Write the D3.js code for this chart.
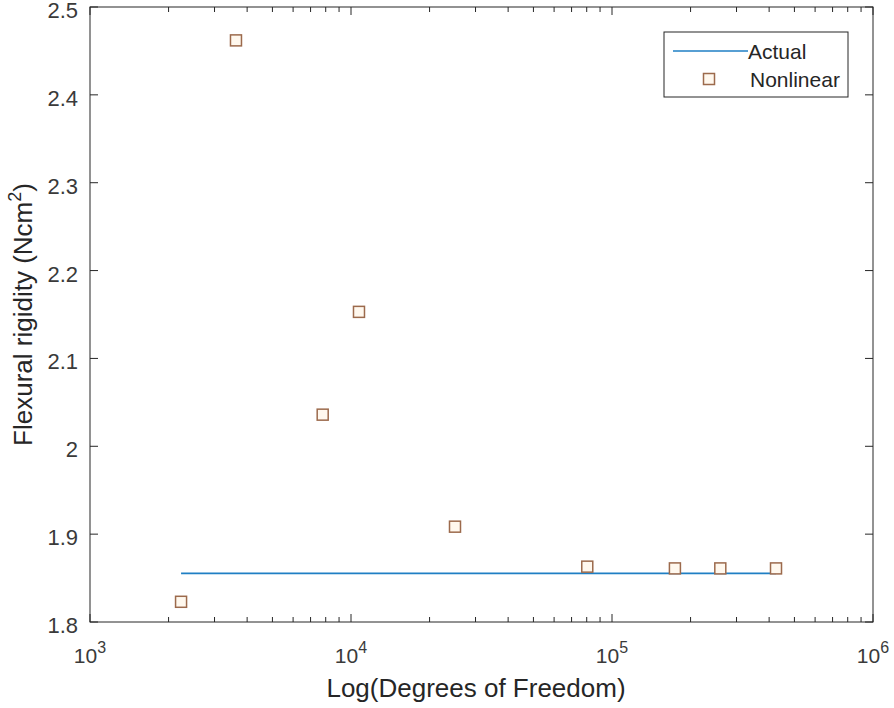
<!DOCTYPE html>
<html>
<head>
<meta charset="utf-8">
<script src="https://cdn.jsdelivr.net/npm/d3@7"></script>
<style>
  html, body { margin: 0; padding: 0; background: #fff; }
  text { font-family: "Liberation Sans", Arial, Helvetica, sans-serif; fill: #262626; }
</style>
</head>
<body>
<svg id="chart" width="894" height="708"></svg>
<script>
// degrees of freedom and the nonlinear flexural rigidity found at each mesh
const dof = [2233, 3625, 7790, 10730, 25030, 80400, 174200, 260000, 425000];
const nonlinear = [1.823, 2.462, 2.036, 2.153, 1.9085, 1.863, 1.861, 1.861, 1.861];

// reference (actual) value, drawn across the same dof range
const actualX = [2233, 425000];
const actualY = [1.8554, 1.8554];

const yTicks = [1.8, 1.9, 2, 2.1, 2.2, 2.3, 2.4, 2.5];
const xDecades = [3, 4, 5, 6];

const COLOR = {
  axis: '#262626',
  text: '#3a3a3a',
  actual: '#1f7fc4',
  marker: '#9c6a4c'
};

const svg = d3.select('#chart');
const m = { left: 90, right: 873, top: 7, bottom: 622 };

const x = d3.scaleLog().domain([1e3, 1e6]).range([m.left, m.right]);
const y = d3.scaleLinear().domain([1.8, 2.5]).range([m.bottom, m.top]);

const MAJOR = 8, MINOR = 5;
const axes = svg.append('g').attr('stroke', COLOR.axis).attr('stroke-width', 1);

// box
axes.append('rect')
  .attr('x', m.left).attr('y', m.top)
  .attr('width', m.right - m.left).attr('height', m.bottom - m.top)
  .attr('fill', 'none');

// x ticks (major + minor), bottom and top, pointing inward
const xMinor = [];
for (let d = 3; d < 6; d++) for (let k = 2; k <= 9; k++) xMinor.push(k * Math.pow(10, d));
const xMajor = xDecades.map(d => Math.pow(10, d));

[[xMajor, MAJOR], [xMinor, MINOR]].forEach(([vals, len]) => {
  axes.append('g').selectAll('line').data(vals).join('line')
    .attr('x1', d => x(d)).attr('x2', d => x(d))
    .attr('y1', m.bottom).attr('y2', m.bottom - len);
  axes.append('g').selectAll('line').data(vals).join('line')
    .attr('x1', d => x(d)).attr('x2', d => x(d))
    .attr('y1', m.top).attr('y2', m.top + len);
});

// y ticks, left and right
axes.append('g').selectAll('line').data(yTicks).join('line')
  .attr('x1', m.left).attr('x2', m.left + MAJOR)
  .attr('y1', d => y(d)).attr('y2', d => y(d));
axes.append('g').selectAll('line').data(yTicks).join('line')
  .attr('x1', m.right).attr('x2', m.right - MAJOR)
  .attr('y1', d => y(d)).attr('y2', d => y(d));

// y tick labels
svg.append('g').selectAll('text').data(yTicks).join('text')
  .attr('x', m.left - 12)
  .attr('y', d => y(d) + 11)
  .attr('text-anchor', 'end')
  .attr('font-size', 22)
  .style('fill', COLOR.text)
  .text(d => d3.format('')(d));

// x tick labels: 10 with exponent
const xl = svg.append('g').selectAll('text').data(xDecades).join('text')
  .attr('x', d => x(Math.pow(10, d)))
  .attr('y', m.bottom + 41)
  .attr('text-anchor', 'middle')
  .attr('font-size', 21)
  .style('fill', COLOR.text);
xl.append('tspan').text('10');
xl.append('tspan').attr('dy', -10).attr('font-size', 16).text(d => d);

// axis labels
svg.append('text')
  .attr('x', 476)
  .attr('y', 697)
  .attr('text-anchor', 'middle')
  .attr('font-size', 26)
  .text('Log(Degrees of Freedom)');

const yl = svg.append('text')
  .attr('transform', `translate(32,${(m.top + m.bottom) / 2}) rotate(-90)`)
  .attr('text-anchor', 'middle')
  .attr('font-size', 26);
yl.append('tspan').text('Flexural rigidity (Ncm');
yl.append('tspan').attr('dy', -11).attr('font-size', 18).text('2');
yl.append('tspan').attr('dy', 11).text(')');

// actual line
const line = d3.line().x(d => x(d[0])).y(d => y(d[1]));
svg.append('path')
  .datum(d3.zip(actualX, actualY))
  .attr('d', line)
  .attr('fill', 'none')
  .attr('stroke', COLOR.actual)
  .attr('stroke-width', 1.6);

// nonlinear markers
const S = 11;
svg.append('g').selectAll('rect').data(d3.zip(dof, nonlinear)).join('rect')
  .attr('x', d => x(d[0]) - S / 2)
  .attr('y', d => y(d[1]) - S / 2)
  .attr('width', S).attr('height', S)
  .attr('fill', '#fff8ee')
  .attr('stroke', COLOR.marker)
  .attr('stroke-width', 1.5);

// legend
const lg = svg.append('g');
lg.append('rect')
  .attr('x', 664).attr('y', 32).attr('width', 184).attr('height', 65)
  .attr('fill', '#fff').attr('stroke', COLOR.axis).attr('stroke-width', 1);
lg.append('line')
  .attr('x1', 673).attr('x2', 748).attr('y1', 51).attr('y2', 51)
  .attr('stroke', COLOR.actual).attr('stroke-width', 1.6);
lg.append('text').attr('x', 748).attr('y', 51).attr('dy', '0.36em')
  .attr('font-size', 21).text('Actual');
lg.append('rect')
  .attr('x', 709 - S / 2).attr('y', 79 - S / 2).attr('width', S).attr('height', S)
  .attr('fill', '#fff8ee').attr('stroke', COLOR.marker).attr('stroke-width', 1.5);
lg.append('text').attr('x', 750).attr('y', 79).attr('dy', '0.36em')
  .attr('font-size', 21).text('Nonlinear');
</script>
</body>
</html>
